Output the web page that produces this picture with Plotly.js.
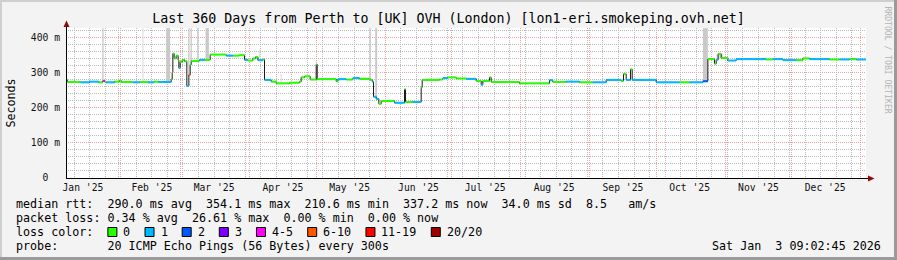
<!DOCTYPE html>
<html><head><meta charset="utf-8">
<script src="https://cdn.plot.ly/plotly-3.0.1.min.js"></script>
<style>html,body{margin:0;padding:0;background:#f3f3f3;overflow:hidden}#chart{width:897px;height:260px}</style>
</head><body><div id="chart"></div>
<script>
// ---------- data ----------
const rangeStart = '2025-01-08 09:02:45';
const rangeEnd = '2026-01-03 09:02:45';

const medianDates = [
 '2025-01-08 09:02','2025-01-09 00:00','2025-01-15 00:00','2025-01-19 00:00','2025-01-23 00:00',
 '2025-01-24 22:00','2025-01-25 20:00','2025-01-26 11:00','2025-01-30 05:00','2025-02-01 11:00',
 '2025-02-02 05:00','2025-02-07 11:00','2025-02-10 11:00','2025-02-14 05:00','2025-02-17 00:00',
 '2025-02-19 00:00','2025-02-24 17:00','2025-02-25 04:00','2025-02-25 11:00','2025-02-26 01:00',
 '2025-02-26 23:00','2025-02-27 20:00','2025-02-28 04:00','2025-02-28 18:00','2025-03-01 16:00',
 '2025-03-02 17:00','2025-03-03 18:00','2025-03-04 16:00','2025-03-05 06:00','2025-03-05 17:00',
 '2025-03-09 11:00','2025-03-11 17:00','2025-03-14 06:00','2025-03-21 11:00','2025-03-24 11:00',
 '2025-03-27 04:00','2025-03-29 17:00','2025-03-31 05:00','2025-04-02 11:00','2025-04-03 16:00',
 '2025-04-04 17:00','2025-04-06 23:00','2025-04-07 17:00','2025-04-10 17:00','2025-04-12 23:00',
 '2025-04-18 23:00','2025-04-23 11:00','2025-04-24 05:00','2025-04-25 17:00','2025-04-28 06:00',
 '2025-04-30 23:00','2025-05-01 10:00','2025-05-09 23:00','2025-05-10 17:00','2025-05-14 11:00',
 '2025-05-17 11:00','2025-05-20 11:00','2025-05-25 06:00','2025-05-26 04:00','2025-05-26 18:00',
 '2025-05-27 23:00','2025-05-29 04:00','2025-05-30 05:00','2025-06-05 05:00','2025-06-09 17:00',
 '2025-06-10 04:00','2025-06-13 11:00','2025-06-17 05:00','2025-06-17 16:00','2025-06-25 11:00',
 '2025-06-26 23:00','2025-06-29 05:00','2025-07-02 23:00','2025-07-07 11:00','2025-07-11 23:00',
 '2025-07-14 05:00','2025-07-14 23:00','2025-07-17 23:00','2025-07-18 17:00','2025-07-31 11:00',
 '2025-08-13 23:00','2025-08-15 11:00','2025-08-21 11:00','2025-08-27 11:00','2025-09-02 11:00',
 '2025-09-08 11:00','2025-09-15 05:00','2025-09-16 06:00','2025-09-17 11:00','2025-09-19 10:00',
 '2025-09-20 04:00','2025-09-30 23:00','2025-10-11 11:00','2025-10-15 23:00','2025-10-21 23:00',
 '2025-10-24 05:00','2025-10-27 05:00','2025-10-27 23:00','2025-10-28 20:00','2025-10-30 05:00',
 '2025-11-02 05:00','2025-11-05 23:00','2025-11-19 11:00','2025-11-22 11:00','2025-11-26 23:00',
 '2025-12-02 23:00','2025-12-05 23:00','2025-12-08 23:00','2025-12-17 23:00','2025-12-22 11:00',
 '2025-12-26 23:00','2025-12-29 23:00','2026-01-03 09:00'
];
const medianValues = [
 279,273,272,274,272, 276,273,272,274,277, 273,272,273,272,274, 273,281,300,354,340,
 348,335,313,330,336, 332,262,293,322,333, 336,336,351,348,348, 349,336,334,340,344,
 335,337,279,274,269, 271,274,286,289,280, 323,281,275,281,280, 284,282,279,274,231,
 225,211,219,214,252, 216,216,258,279,280, 284,286,283,282,276, 265,276,286,273,269,
 278,273,274,272,272, 279,276,296,279,309, 279,272,272,272,275, 338,325,336,353,341,
 334,338,337,338,335, 335,340,338,337,337, 338,337,337
];
// loss class index per step (0 = "0", 1 = "1", 2 = "2", 3 = "3", 4 = "4-5", 5 = "6-10", 6 = "11-19", 7 = "20/20")
const medianLoss = [
 0,0,1,1,0, 4,0,1,0,0, 0,1,0,1,0, 1,0,0,0,0,
 0,0,1,0,0, 0,1,5,0,0, 1,0,0,1,0, 0,1,0,0,0,
 1,0,1,0,0, 0,0,0,0,0, 0,0,0,1,0, 1,0,0,1,1,
 1,0,0,1,0, 0,1,0,0,0, 1,0,0,1,0, 1,0,0,0,0,
 1,0,1,0,1, 1,0,0,1,0, 1,1,0,1,2, 0,0,1,0,0,
 1,1,0,1,1, 0,0,1,0,1, 0,1,1
];

const lossLabels = ['0','1','2','3','4-5','6-10','11-19','20/20'];
const lossColors = ['#26ff00','#00b8ff','#0059ff','#7e00ff','#ff00ff','#ff5500','#ff0000','#a10000'];

// smoke (spread of the individual pings): centre, duration in days, low, high
const smokeDates = ['2025-01-25 00:00','2025-02-23 08:00','2025-03-04 16:00','2025-03-05 17:00','2025-03-08 17:00',
                    '2025-03-12 22:00','2025-05-25 06:00','2025-05-27 23:00','2025-10-23 02:00'];
const smokeDays  = [0.6,1.8,0.6,0.6,0.6, 1.5,0.6,0.9,2.2];
const smokeLow   = [276,273,293,333,336, 336,279,228,275];
const smokeHigh  = [426,426,426,426,426, 426,426,426,426];

const faintDates = ['2025-02-12 00:00','2025-04-05 11:00','2025-04-15 05:00','2025-10-29 12:00'];
const faintDays  = [0.6,0.6,0.6,3.0];
const faintLow   = [272,341,271,338];
const faintHigh  = [426,365,296,352];

const monthStarts = ['2025-02-01','2025-03-01','2025-04-01','2025-05-01','2025-06-01','2025-07-01',
                     '2025-08-01','2025-09-01','2025-10-01','2025-11-01','2025-12-01','2026-01-01'];
const monthLabelDates = ['2025-01-16','2025-02-16','2025-03-16','2025-04-16','2025-05-16','2025-06-16',
                         '2025-07-16','2025-08-16','2025-09-16','2025-10-16','2025-11-16','2025-12-16'];
const monthLabels = ["Jan '25","Feb '25","Mar '25","Apr '25","May '25","Jun '25",
                     "Jul '25","Aug '25","Sep '25","Oct '25","Nov '25","Dec '25"];
const yTickVals = [0,100,200,300,400];
const yTickText = ['0','100 m','200 m','300 m','400 m'];

const rttStatValues = [290.0, 354.1, 210.6, 337.2];
const rttStatKinds  = ['avg','max','min','now'];
const rttSd = 34.0;
const rttAms = 8.5;
const lossStatValues = [0.34, 26.61, 0.00, 0.00];
const lossStatKinds  = ['avg','max','min','now'];
const probeText = '20 ICMP Echo Pings (56 Bytes) every 300s';
const stampText = 'Sat Jan  3 09:02:45 2026';
const titleText = 'Last 360 Days from Perth to [UK] OVH (London) [lon1-eri.smokeping.ovh.net]';

// ---------- helpers ----------
const DAY = 86400000;
const L = 66, R = 31, T = 28, B = 82, W = 897, H = 260;
const PW = W - L - R, PH = H - T - B;
const px = p => (p - L) / PW;
const py = p => (H - B - p) / PH;
const mono = 'DejaVu Sans Mono, monospace';
const nb = s => s.replace(/ /g, '\u00a0');
const legendFont = {family: mono, size: 11.7, color: '#000'};
const cw = 7.044;

function txt(s, x, y, anchor, font) {
  return {text: nb(s), xref: 'paper', yref: 'paper', x: px(x), y: py(y),
          xanchor: anchor || 'left', yanchor: 'middle', showarrow: false,
          font: font || legendFont, borderpad: 0, borderwidth: 0};
}

// ---------- traces ----------
const traces = [];
traces.push({type: 'bar', x: faintDates, base: faintLow,
  y: faintHigh.map((h, i) => h - faintLow[i]), width: faintDays.map(d => d * DAY),
  marker: {color: '#e2e2e2', line: {width: 0}}, hoverinfo: 'skip'});
traces.push({type: 'bar', x: smokeDates, base: smokeLow,
  y: smokeHigh.map((h, i) => h - smokeLow[i]), width: smokeDays.map(d => d * DAY),
  marker: {color: '#c9c9c9', line: {width: 0}}, hoverinfo: 'skip'});
traces.push({type: 'scatter', mode: 'lines', x: medianDates, y: medianValues,
  line: {color: '#1a1a1a', width: 1, shape: 'hv'}, hoverinfo: 'skip'});

lossColors.forEach((col, c) => {
  const xs = [], ys = [];
  for (let i = 0; i < medianDates.length - 1; i++) {
    if (medianLoss[i] === c) {
      xs.push(medianDates[i], medianDates[i + 1], null);
      ys.push(medianValues[i], medianValues[i], null);
    }
  }
  if (xs.length) traces.push({type: 'scatter', mode: 'lines', x: xs, y: ys,
    connectgaps: false, line: {color: col, width: 2}, hoverinfo: 'skip'});
});
// carrier for label axis
traces.push({type: 'scatter', mode: 'lines', x: [rangeStart], y: [null], xaxis: 'x2', yaxis: 'y', hoverinfo: 'skip'});

// ---------- annotations ----------
const ann = [];
const line1 = 'median rtt:  ' + rttStatValues.map((v, i) => v.toFixed(1) + ' ms ' + rttStatKinds[i]).join('  ')
  + '  ' + rttSd.toFixed(1) + ' ms sd  ' + rttAms.toFixed(1) + '   am/s';
const line2 = 'packet loss: ' + lossStatValues.map((v, i) => v.toFixed(2) + ' % ' + lossStatKinds[i]).join('  ');
ann.push(txt(line1, 16, 204));
ann.push(txt(line2, 16, 218));
ann.push(txt('loss color:', 16, 232));
ann.push(txt('probe:       ' + probeText, 16, 246));
ann.push(txt(stampText, 881, 246, 'right'));
ann.push({text: 'RRDTOOL / TOBI OETIKER', xref: 'paper', yref: 'paper', x: px(887.5), y: py(60),
  xanchor: 'center', yanchor: 'middle', textangle: 90, showarrow: false,
  font: {family: mono, size: 8.1, color: '#b4b4b4'}, borderpad: 0, borderwidth: 0});

const shapes = [];
let bx = 16 + 11 * cw + 14.4;
lossLabels.forEach((lab, i) => {
  shapes.push({type: 'rect', xref: 'paper', yref: 'paper', x0: px(bx), x1: px(bx + 9),
    y0: py(236.5), y1: py(227.5), fillcolor: lossColors[i], line: {color: '#000', width: 1}});
  const lx = bx + 15.5;
  ann.push(txt(lab, lx, 232));
  bx = lx + lab.length * cw + 14.6;
});

// frame (3d border)
shapes.push({type: 'rect', xref: 'paper', yref: 'paper', x0: px(0), x1: px(W), y0: py(0), y1: py(2), fillcolor: '#cfcfcf', line: {width: 0}});
shapes.push({type: 'rect', xref: 'paper', yref: 'paper', x0: px(0), x1: px(2), y0: py(0), y1: py(H), fillcolor: '#cfcfcf', line: {width: 0}});
shapes.push({type: 'rect', xref: 'paper', yref: 'paper', x0: px(0), x1: px(W), y0: py(H - 3), y1: py(H), fillcolor: '#9a9a9a', line: {width: 0}});
shapes.push({type: 'rect', xref: 'paper', yref: 'paper', x0: px(W - 3), x1: px(W), y0: py(0), y1: py(H), fillcolor: '#9a9a9a', line: {width: 0}});
// axis extensions and arrows
shapes.push({type: 'line', xref: 'paper', yref: 'paper', x0: px(L), x1: px(868.5), y0: py(178.5), y1: py(178.5), line: {color: '#000', width: 1}});
shapes.push({type: 'line', xref: 'paper', yref: 'paper', x0: px(66.5), x1: px(66.5), y0: py(178), y1: py(26), line: {color: '#000', width: 1}});
shapes.push({type: 'path', xref: 'paper', yref: 'paper',
  path: `M ${px(868)} ${py(175.5)} L ${px(874.5)} ${py(178.5)} L ${px(868)} ${py(181.5)} Z`,
  fillcolor: '#8e0a0a', line: {width: 0}});
shapes.push({type: 'path', xref: 'paper', yref: 'paper',
  path: `M ${px(63.5)} ${py(27)} L ${px(66.5)} ${py(20.5)} L ${px(69.5)} ${py(27)} Z`,
  fillcolor: '#8e0a0a', line: {width: 0}});

const tickFont = {family: mono, size: 9.7, color: '#111'};
const redGrid = '#f2a2a2', greyGrid = '#bcbcbc';

const layout = {
  width: W, height: H,
  margin: {l: L, r: R, t: T, b: B, pad: 0},
  paper_bgcolor: '#f3f3f3', plot_bgcolor: '#ffffff',
  showlegend: false, barmode: 'overlay', hovermode: false,
  title: {text: titleText, font: {family: mono, size: 13.3, color: '#000'},
          x: 0.5, xref: 'container', xanchor: 'center', y: 1 - 18 / H, yref: 'container', yanchor: 'middle'},
  xaxis: {type: 'date', range: [rangeStart, rangeEnd], tickmode: 'array', tickvals: monthStarts,
          showticklabels: false, ticks: '', showgrid: true, gridcolor: redGrid, griddash: '1px,1px', gridwidth: 1,
          minor: {tickmode: 'linear', tick0: '2025-01-05', dtick: 7 * DAY, showgrid: true,
                  gridcolor: greyGrid, griddash: '1px,1px', gridwidth: 1, ticks: ''},
          showline: false, zeroline: false, fixedrange: true},
  xaxis2: {type: 'date', overlaying: 'x', anchor: 'y', side: 'bottom', range: [rangeStart, rangeEnd],
           tickmode: 'array', tickvals: monthLabelDates, ticktext: monthLabels, showgrid: false,
           showline: false, zeroline: false, ticks: '', tickfont: tickFont, ticklabelstandoff: 2, fixedrange: true},
  yaxis: {range: [0, 426.5], tickmode: 'array', tickvals: yTickVals,
          ticktext: yTickText.map(t => t === '0' ? '0\u00a0\u00a0' : nb(t)),
          showgrid: true, gridcolor: redGrid, griddash: '1px,1px', gridwidth: 1,
          minor: {tickmode: 'linear', tick0: 0, dtick: 20, showgrid: true, gridcolor: greyGrid,
                  griddash: '1px,1px', gridwidth: 1, ticks: ''},
          showline: false, zeroline: false, ticks: '', tickfont: tickFont, ticklabelstandoff: 5,
          title: {text: 'Seconds', font: {family: mono, size: 11.7, color: '#000'}, standoff: 12},
          fixedrange: true},
  annotations: ann,
  shapes: shapes
};

Plotly.newPlot('chart', traces, layout, {staticPlot: true, displayModeBar: false});
</script>
</body></html>
